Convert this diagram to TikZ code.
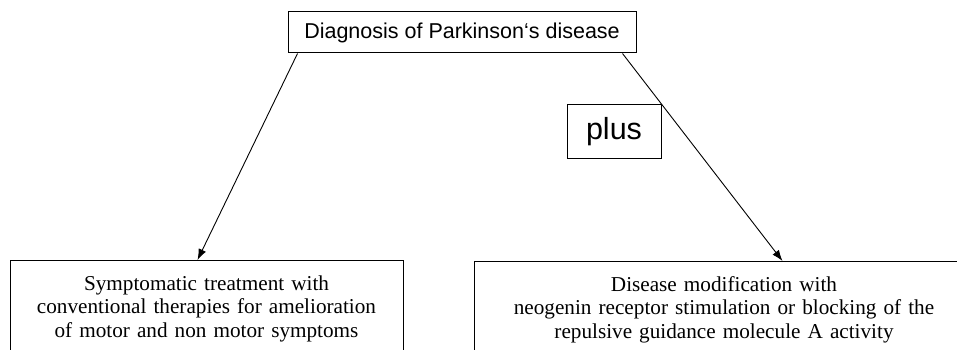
\documentclass[tikz,border=0pt]{standalone}
\usepackage{fontspec}
\setmainfont{Liberation Sans}
\newfontfamily\therapyfont{Liberation Serif}
\usetikzlibrary{
  arrows.meta,
}

\begin{document}
\begin{tikzpicture}[
  x=1pt, y=-1pt,
  every node/.style={draw, line width=1pt},
  title box/.style={minimum width=348pt, minimum height=41pt, inner sep=0pt, font=\fontsize{21.5}{26}\selectfont},
  plus box/.style={minimum width=94pt, minimum height=53pt, inner sep=0pt, font=\fontsize{30.5}{36}\selectfont},
  therapy box/.style={anchor=north, align=center, inner ysep=15pt, font=\therapyfont\fontsize{21.2}{23.5}\selectfont},
  arrow/.style={draw, line width=0.9pt, -{Latex[length=11pt,width=8pt]}},
]
\useasboundingbox (0,0) rectangle (957,350);
\clip (0,0) rectangle (957,350);
\node[title box] (diagnosis) at (462,32.5) {Diagnosis of Parkinson‘s disease};
\node[therapy box, minimum width=393pt, text width=380pt] (symptomatic) at (206.5,260)
  {Symptomatic treatment with\\ conventional therapies for amelioration\\ of motor and non motor symptoms\rule[-40pt]{0pt}{1pt}};
\node[therapy box, minimum width=500pt, text width=480pt] (modification) at (724,261)
  {Disease modification with\\ neogenin receptor stimulation or blocking of the\\ repulsive guidance molecule A activity\rule[-40pt]{0pt}{1pt}};
\draw[arrow] ([xshift=10pt]diagnosis.south west) -- ([xshift=-9pt]symptomatic.north);
\draw[arrow] ([xshift=-14pt]diagnosis.south east) -- ([xshift=309pt]modification.north west);
\node[plus box] (plus) at (614,131.5) {plus};
\end{tikzpicture}
\end{document}
